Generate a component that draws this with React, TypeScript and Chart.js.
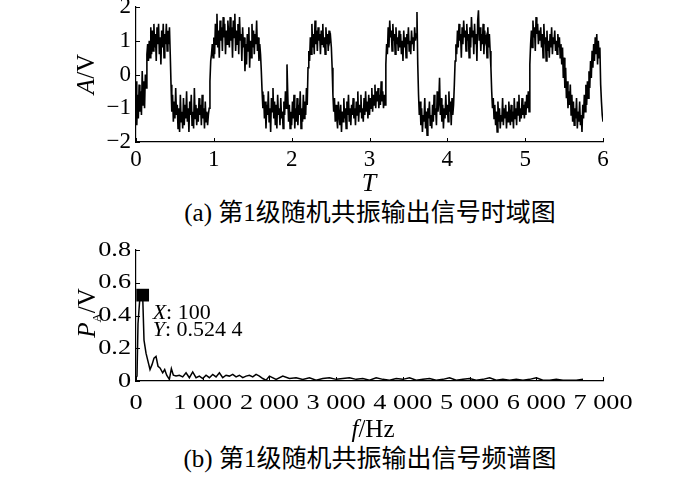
import React, { useEffect, useRef } from "react";
import { Chart, registerables } from "chart.js";
Chart.register(...registerables);

// ---------- (a) time-domain signal ----------
const sampleStep = 0.01; // T units between samples
const signalValues = [
  -0.2,-1.5,-0.6,-1.3,-0.3,-1.1,-0.5,-1.2,0.1,-0.9,-0.2,-1.0,0.0,-0.4,0.6,0.9,0.4,1.0,0.5,1.4,
  0.6,1.3,0.7,1.5,0.8,1.2,0.4,1.4,0.9,1.5,0.6,1.1,0.3,1.3,0.8,1.5,0.5,1.2,0.9,1.5,
  0.7,1.3,0.9,1.4,0.6,-0.3,-1.1,-0.6,-1.4,-0.8,-1.3,-0.4,-1.2,-0.9,-1.6,-1.0,-1.7,-0.6,-1.4,-1.1,
  -1.6,-0.7,-1.5,-0.9,-1.3,-0.5,-1.4,-1.0,-1.7,-0.8,-1.2,-0.6,-1.5,-1.1,-1.6,-0.4,-1.3,-0.9,-1.5,-1.0,
  -1.4,-0.7,-1.2,-0.9,-1.5,-0.6,-1.3,-1.0,-1.6,-0.8,-1.4,-1.1,-1.5,-1.2,-1.0,-0.2,0.4,0.6,0.9,0.5,
  1.1,0.6,1.5,0.9,1.8,0.8,1.3,0.5,1.6,1.0,1.4,0.7,1.7,1.1,1.5,0.6,1.3,0.9,1.6,1.2,
  0.8,1.7,1.0,1.4,0.5,1.6,1.1,1.8,0.7,1.3,0.9,1.5,0.6,1.7,1.0,1.2,0.4,1.4,0.8,1.1,
  0.1,0.9,0.3,1.2,0.7,1.4,0.2,1.0,0.5,1.5,0.8,1.3,0.6,1.2,0.9,1.6,0.7,1.1,0.4,0.9,
  0.6,0.1,-0.5,-1.0,-0.6,-1.3,-0.8,-1.6,-0.9,-1.2,-0.5,-1.4,-1.0,-1.7,-0.7,-1.1,-0.4,-1.3,-0.8,-1.5,
  -0.9,-1.6,-0.6,-1.2,-1.0,-1.5,-0.7,-1.3,-1.1,-1.6,-0.8,-1.2,-0.5,-1.0,0.3,-0.6,-1.4,-0.9,-1.6,-1.1,
  -1.5,-0.8,-1.3,-0.6,-1.6,-1.0,-1.4,-0.7,-1.5,-0.9,-1.2,-0.5,-1.6,-1.0,-1.4,-0.6,-1.3,-0.8,-1.2,-0.4,
  -0.9,0.2,0.7,0.4,1.1,0.6,1.5,0.8,1.2,0.6,1.6,0.9,1.3,0.7,1.4,1.0,1.2,0.6,1.3,0.9,
  1.5,0.8,1.1,0.6,1.4,0.9,1.2,0.7,1.3,1.0,1.1,0.8,0.2,-0.6,-1.1,-0.7,-1.4,-0.9,-1.3,-1.6,
  -0.8,-1.2,-1.5,-0.9,-1.7,-1.1,-1.4,-0.7,-1.3,-1.0,-1.6,-0.8,-1.2,-0.6,-1.4,-1.0,-1.5,-0.9,-1.2,-0.7,
  -1.3,-1.0,-1.5,-0.8,-1.2,-0.5,-1.4,-0.9,-1.1,-0.6,-1.3,-1.0,-1.4,-0.7,-1.2,-0.5,-1.1,-0.8,-1.3,-0.6,
  -1.2,-0.7,-1.0,-0.4,-1.1,-0.6,-0.9,-0.3,-1.0,-0.5,-0.8,-0.4,-1.0,-0.6,-0.9,-0.2,-0.8,-0.5,-1.0,-0.6,
  -0.9,0.3,0.9,0.6,1.4,0.8,1.6,1.1,1.3,0.7,1.5,1.0,1.2,0.6,1.4,0.9,1.1,0.7,1.3,0.8,
  1.2,0.6,1.0,0.4,1.3,0.8,1.1,0.5,1.2,0.9,1.4,0.7,1.0,0.6,1.3,0.9,1.1,0.7,1.4,1.0,
  1.2,1.85,0.3,-0.6,-1.2,-0.8,-1.5,-1.0,-1.7,-1.2,-1.4,-0.7,-1.6,-1.1,-1.8,-1.0,-1.3,-0.8,-1.5,-1.2,
  -1.6,-0.9,-1.4,-0.6,-1.2,-1.0,-1.5,-0.5,-1.1,-0.8,-0.1,-1.2,-0.7,-1.4,-0.9,-1.6,-1.0,-1.3,-0.6,-1.2,
  -0.9,-1.4,-0.5,-1.1,-0.8,-1.5,-0.7,-1.2,-0.9,-0.3,0.4,0.9,0.6,1.3,0.8,1.5,1.0,1.2,0.5,1.4,
  0.9,1.6,1.1,1.3,0.7,1.5,1.0,1.2,0.5,1.4,0.8,1.7,1.1,1.3,0.6,1.5,0.9,1.2,0.4,1.6,
  1.9,1.0,1.4,0.7,1.2,0.9,1.5,0.6,1.3,1.0,1.1,0.5,1.4,0.8,1.2,0.7,0.2,-0.5,-1.0,-0.7,
  -1.3,-0.9,-1.5,-1.1,-1.7,-0.8,-1.4,-1.0,-1.6,-1.2,-1.4,-0.7,-1.5,-1.0,-1.3,-0.9,-1.6,-1.1,-1.4,-0.8,
  -1.2,-1.5,-0.9,-1.4,-1.1,-1.6,-0.7,-1.3,-1.0,-1.5,-0.8,-1.2,-0.6,-1.4,-1.0,-1.3,-0.7,-1.2,-0.9,-1.3,
  -0.8,-1.2,-0.6,-1.0,-0.5,-1.1,0.3,0.9,1.3,0.8,1.6,1.1,1.4,0.7,1.7,1.2,1.5,0.9,1.3,1.0,
  1.4,0.8,1.2,0.5,1.5,0.9,1.1,0.4,1.3,0.7,1.0,0.5,1.2,0.8,1.4,0.6,1.1,0.9,1.3,0.7,
  1.0,0.6,1.2,0.8,1.1,0.5,0.9,0.3,0.8,-0.1,0.5,-0.4,0.2,-0.7,-0.2,-1.0,-0.5,-0.9,-0.3,-1.2,
  -0.6,-1.4,-0.8,-1.5,-1.0,-1.3,-0.7,-1.6,-1.1,-1.4,-0.8,-1.5,-1.2,-1.7,-0.9,-1.3,-0.6,-1.1,-0.3,-0.9,
  -0.2,-0.7,0.1,-0.4,0.4,-0.1,0.7,0.2,0.9,0.4,1.1,0.6,1.2,0.3,1.0,0.5,0.8,-0.3,-0.8,-1.2,
  -1.4,
];
const timeTickLabels = ["0", "1", "2", "3", "4", "5", "6"];
const ampTickLabels = ["\u22122", "\u22121", "0", "1", "2"];

// ---------- (b) spectrum ----------
const specFreq = [
  0, 15, 30, 60, 100, 120, 150, 180, 210, 240, 270, 300, 330, 360, 400, 430, 460, 500, 530, 560,
  600, 650, 700, 750, 800, 850, 900, 950, 1000, 1050, 1100, 1150, 1200, 1250, 1300, 1350, 1400,
  1450, 1500, 1550, 1600, 1650, 1700, 1750, 1800, 1850, 1900, 1950, 2000,
  2100, 2200, 2300, 2400, 2500, 2600, 2700, 2800, 2900, 3000, 3100, 3200, 3300, 3400, 3500, 3600,
  3700, 3800, 3900, 4000, 4100, 4200, 4300, 4400, 4500, 4600, 4700, 4800, 4900, 5000, 5100, 5200,
  5300, 5400, 5500, 5600, 5700, 5800, 5900, 6000, 6100, 6200, 6300, 6400, 6500, 6600, 6700,
];
const specAmp = [
  0.02, 0.03, 0.35, 0.52, 0.5244, 0.25, 0.17, 0.12, 0.07, 0.1, 0.14, 0.15, 0.09, 0.08, 0.05, 0.07, 0.035, 0.01, 0.075, 0.035,
  0.03, 0.035, 0.025, 0.05, 0.02, 0.055, 0.02, 0.03, 0.015, 0.035, 0.02, 0.04, 0.025, 0.05, 0.02, 0.035, 0.03,
  0.04, 0.025, 0.035, 0.02, 0.03, 0.035, 0.025, 0.04, 0.03, 0.015, 0.005, 0.03,
  0.01, 0.03, 0.015, 0.02, 0.01, 0.02, 0.005, 0.015, 0.02, 0.01, 0.015, 0.02, 0.01, 0.015, 0.005, 0.02,
  0.01, 0.005, 0.015, 0.01, 0.02, 0.005, 0.01, 0.015, 0.005, 0.01, 0.02, 0.005, 0.01, 0.015, 0.005, 0.01,
  0.02, 0.005, 0.01, 0.005, 0.01, 0.005, 0.01, 0.02, 0.005, 0.005, 0.01, 0.005, 0.005, 0.005, 0.01,
];
const freqTickLabels = ["0", "1 000", "2 000", "3 000", "4 000", "5 000", "6 000", "7 000"];
const pTickLabels = ["0", "0.2", "0.4", "0.6", "0.8"];
const peakFreq = [100];
const peakAmp = [0.5244];

const SERIF = "Liberation Serif";

const inwardTicks = {
  id: "inwardTicks",
  afterDraw(chart: any) {
    const { ctx, chartArea } = chart;
    const xs = chart.scales.x;
    const ys = chart.scales.y;
    ctx.save();
    ctx.strokeStyle = "#000";
    ctx.lineWidth = 1;
    ctx.beginPath();
    xs.ticks.forEach((t: any) => {
      const px = Math.round(xs.getPixelForValue(t.value)) + 0.5;
      ctx.moveTo(px, chartArea.bottom);
      ctx.lineTo(px, chartArea.bottom - 4);
    });
    ys.ticks.forEach((t: any) => {
      const py = Math.round(ys.getPixelForValue(t.value)) + 0.5;
      ctx.moveTo(chartArea.left, py);
      ctx.lineTo(chartArea.left + 4, py);
    });
    ctx.stroke();
    ctx.restore();
  },
};

// stretch tick label glyphs horizontally (bottom panel uses wide type)
const makeStretch = (factor: number) => ({
  id: "stretchLabels",
  beforeDraw(chart: any) {
    const ctx = chart.ctx as any;
    const orig = CanvasRenderingContext2D.prototype.fillText;
    ctx.fillText = function (text: string, x: number, y: number, maxWidth?: number) {
      this.save();
      this.translate(x, y);
      this.scale(factor, 1);
      if (maxWidth === undefined || maxWidth === null) orig.call(this, text, 0, 0);
      else orig.call(this, text, 0, 0, maxWidth / factor);
      this.restore();
    };
  },
  afterDraw(chart: any) {
    delete (chart.ctx as any).fillText;
    // annotation of the marked peak
    const ctx = chart.ctx;
    const xs = chart.scales.x;
    const ys = chart.scales.y;
    const px = xs.getPixelForValue(peakFreq[0]);
    const py = ys.getPixelForValue(peakAmp[0]);
    const yStr = peakAmp[0].toFixed(4);
    const lines = [
      ["X", ": " + String(peakFreq[0])],
      ["Y", ": " + yStr.slice(0, 5) + " " + yStr.slice(5)],
    ];
    ctx.save();
    ctx.fillStyle = "#000";
    ctx.textBaseline = "alphabetic";
    ctx.textAlign = "left";
    lines.forEach((ln, i) => {
      ctx.save();
      ctx.translate(px + 10, py + 24 + i * 17);
      ctx.scale(1.1, 1);
      ctx.font = `italic 20px "${SERIF}"`;
      ctx.fillText(ln[0], 0, 0);
      const w = ctx.measureText(ln[0]).width;
      ctx.font = `20px "${SERIF}"`;
      ctx.fillText(ln[1], w, 0);
      ctx.restore();
    });
    ctx.restore();
  },
});

function axisCommon(size: number, padding: number) {
  return {
    ticks: {
      color: "#000",
      padding,
      maxRotation: 0,
      autoSkip: false,
      font: { family: SERIF, size },
    },
    grid: { display: false, drawTicks: false },
    border: { display: true, color: "#000", width: 1.2 },
  };
}

export default function App() {
  const topRef = useRef<HTMLCanvasElement>(null);
  const botRef = useRef<HTMLCanvasElement>(null);

  useEffect(() => {
    document.body.style.margin = "0";
    const xa = axisCommon(23, 4);
    const ya = axisCommon(23, 5);
    const top = new Chart(topRef.current!, {
      type: "line",
      data: {
        datasets: [
          {
            data: signalValues.map((v, i) => ({ x: i * sampleStep, y: v })),
            borderColor: "#000",
            borderWidth: 1.6,
            pointRadius: 0,
            tension: 0,
          },
        ],
      },
      options: {
        animation: false,
        responsive: false,
        events: [],
        layout: { padding: { top: 20, right: 97, bottom: 0, left: 0 } },
        plugins: { legend: { display: false }, tooltip: { enabled: false } },
        scales: {
          x: {
            type: "linear",
            min: 0,
            max: 6,
            afterFit(s: any) { s.height = 45; },
            ...xa,
            ticks: { ...xa.ticks, stepSize: 1, callback: (_v: any, i: number) => timeTickLabels[i] },
          },
          y: {
            type: "linear",
            min: -2,
            max: 2,
            afterFit(s: any) { s.width = 136; },
            ...ya,
            ticks: { ...ya.ticks, stepSize: 1, callback: (_v: any, i: number) => ampTickLabels[i] },
          },
        },
      } as any,
      plugins: [makeStretchTop(), inwardTicks],
    });

    const xb = axisCommon(21, 10);
    const yb = axisCommon(21, 5);
    const bot = new Chart(botRef.current!, {
      type: "line",
      data: {
        datasets: [
          {
            data: specFreq.map((f, i) => ({ x: f, y: specAmp[i] })),
            borderColor: "#000",
            borderWidth: 1.5,
            pointRadius: 0,
            tension: 0,
            order: 2,
          },
          {
            data: peakFreq.map((f, i) => ({ x: f, y: peakAmp[i] })),
            showLine: false,
            pointStyle: "rect",
            pointRadius: 9,
            backgroundColor: "#000",
            borderColor: "#000",
            borderWidth: 0,
            order: 1,
            clip: false,
          },
        ],
      },
      options: {
        animation: false,
        responsive: false,
        events: [],
        layout: { padding: { top: 20, right: 97, bottom: 0, left: 0 } },
        plugins: { legend: { display: false }, tooltip: { enabled: false } },
        scales: {
          x: {
            type: "linear",
            min: 0,
            max: 7000,
            afterFit(s: any) { s.height = 49; },
            ...xb,
            ticks: { ...xb.ticks, stepSize: 1000, callback: (_v: any, i: number) => freqTickLabels[i] },
          },
          y: {
            type: "linear",
            min: 0,
            max: 0.8,
            afterFit(s: any) { s.width = 136; },
            ...yb,
            ticks: { ...yb.ticks, stepSize: 0.2, callback: (_v: any, i: number) => pTickLabels[i] },
          },
        },
      } as any,
      plugins: [makeStretch(1.25), inwardTicks],
    });

    return () => {
      top.destroy();
      bot.destroy();
    };
  }, []);

  const abs: React.CSSProperties = { position: "absolute", whiteSpace: "nowrap", lineHeight: 1, color: "#000" };
  const center: React.CSSProperties = { ...abs, transform: "translate(-50%, -50%)" };
  const rot: React.CSSProperties = { ...abs, transform: "translate(-50%, -50%) rotate(-90deg)" };
  const caption: React.CSSProperties = {
    ...center,
    fontFamily: `"${SERIF}", "Noto Sans CJK SC"`,
    fontSize: 25,
  };

  return (
    <div style={{ position: "fixed", left: 0, top: 0, width: 700, height: 477, overflow: "hidden", background: "#fff" }}>
      <canvas ref={topRef} width={700} height={200} style={{ position: "absolute", left: 0, top: -13 }} />
      <canvas ref={botRef} width={700} height={200} style={{ position: "absolute", left: 0, top: 230 }} />

      <div style={{ ...rot, left: 85, top: 74, fontFamily: SERIF, fontSize: 25 }}>
        <i>A</i>/V
      </div>
      <div style={{ ...center, left: 369, top: 183, fontFamily: SERIF, fontSize: 26 }}>
        <i>T</i>
      </div>
      <div style={{ ...caption, left: 370, top: 212 }}>(a) 第1级随机共振输出信号时域图</div>

      <div style={{ ...rot, left: 86, top: 313, fontFamily: SERIF, fontSize: 25 }}>
        <i>P</i>
        <span style={{ fontSize: 13, position: "relative", top: 6 }}>A</span>/V
      </div>
      <div style={{ ...center, left: 373, top: 428, fontFamily: SERIF, fontSize: 25 }}>
        <i>f</i>/Hz
      </div>
      <div style={{ ...caption, left: 370, top: 458 }}>(b) 第1级随机共振输出信号频谱图</div>
    </div>
  );
}

function makeStretchTop() {
  return { id: "noop" };
}
